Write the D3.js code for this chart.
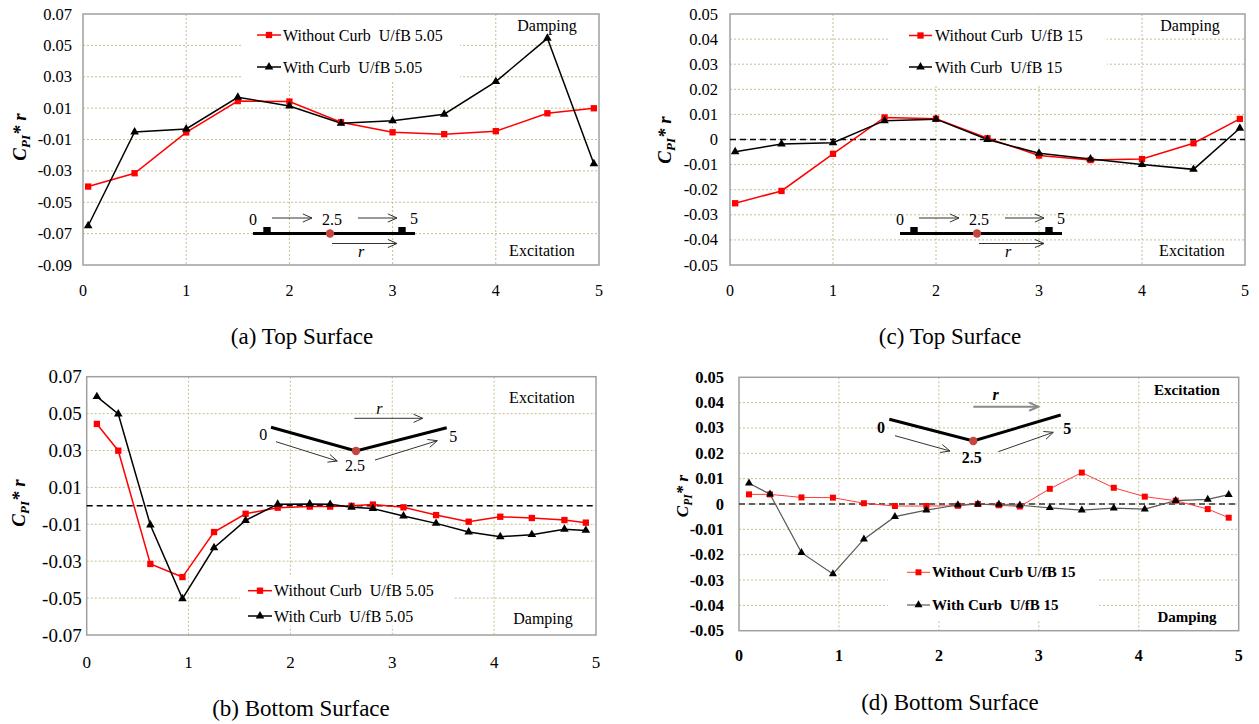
<!DOCTYPE html>
<html><head><meta charset="utf-8">
<script src="https://cdn.jsdelivr.net/npm/d3@7"></script>
<style>
body{margin:0;background:#fff;}
svg{display:block;}
text{font-family:"Liberation Serif","Times New Roman",serif;fill:#000;}
</style>
</head><body>
<svg id="chart" width="1259" height="724"></svg>
<script>
// ---------------- DATA ----------------
const xTicks = [0, 1, 2, 3, 4, 5];
const xGrid = [1, 2, 3, 4];
const yTicksA = [-0.09, -0.07, -0.05, -0.03, -0.01, 0.01, 0.03, 0.05, 0.07];
const yTicksB = [-0.07, -0.05, -0.03, -0.01, 0.01, 0.03, 0.05, 0.07];
const yTicksCD = [-0.05, -0.04, -0.03, -0.02, -0.01, 0, 0.01, 0.02, 0.03, 0.04, 0.05];

const xTop = [0.05, 0.5, 1, 1.5, 2, 2.5, 3, 3.5, 4, 4.5, 4.95];
const aWithout = [-0.040, -0.0315, -0.0055, 0.0145, 0.0142, 0.0010, -0.0054, -0.0066, -0.0047, 0.0067, 0.0099];
const aWith    = [-0.065, -0.0052, -0.0033, 0.0169, 0.0114, 0.0004, 0.0020, 0.0061, 0.0269, 0.0545, -0.0255];
const cWithout = [-0.0254, -0.0205, -0.0057, 0.0088, 0.0083, 0.0005, -0.0064, -0.0082, -0.0078, -0.0015, 0.0082];
const cWith    = [-0.0049, -0.0018, -0.0013, 0.0075, 0.0081, 0.0000, -0.0055, -0.0078, -0.0100, -0.0119, 0.0045];

const xBottom = [0.1, 0.31, 0.625, 0.94, 1.25, 1.56, 1.875, 2.19, 2.39, 2.6, 2.81, 3.11, 3.43, 3.75, 4.06, 4.37, 4.69, 4.9];
const bWithout = [0.0444, 0.0299, -0.0315, -0.0386, -0.0142, -0.0043, -0.0010, -0.0004, -0.0004, 0.0000, 0.0007, -0.0008, -0.0050, -0.0086, -0.0059, -0.0066, -0.0077, -0.0091];
const bWith    = [0.0592, 0.0498, -0.0104, -0.0503, -0.0227, -0.0079, 0.0009, 0.0010, 0.0008, -0.0008, -0.0015, -0.0055, -0.0095, -0.0142, -0.0167, -0.0156, -0.0127, -0.0133];
const dWithout = [0.0038, 0.0038, 0.0026, 0.0025, 0.0003, -0.0008, -0.0008, -0.0007, 0.0000, -0.0005, -0.0010, 0.0060, 0.0124, 0.0064, 0.0029, 0.0013, -0.0020, -0.0054];
const dWith    = [0.0082, 0.0039, -0.0192, -0.0276, -0.0139, -0.0050, -0.0024, -0.0004, -0.0001, -0.0002, -0.0005, -0.0015, -0.0024, -0.0016, -0.0020, 0.0013, 0.0018, 0.0037];

const legA = ["Without Curb  U/fB 5.05", "With Curb  U/fB 5.05"];
const legC = ["Without Curb  U/fB 15", "With Curb  U/fB 15"];
const legD = ["Without Curb U/fB 15", "With Curb  U/fB 15"];
const captions = ["(a) Top Surface", "(b) Bottom Surface", "(c) Top Surface", "(d) Bottom Surface"];

// ---------------- DRAW ----------------
const svg = d3.select("#chart");
const fmt = v => Math.abs(v) < 1e-9 ? "0" : (v < 0 ? "-" : "") + Math.abs(v).toFixed(2);
const GRID = "#c9bd8e";

function arrow(g, x1, y1, x2, y2, color, w) {
  g.append("line").attr("x1", x1).attr("y1", y1).attr("x2", x2).attr("y2", y2)
    .attr("stroke", color).attr("stroke-width", w);
  const a = Math.atan2(y2 - y1, x2 - x1), L = 10, s = 0.42;
  const p1 = [x2 - L * Math.cos(a - s), y2 - L * Math.sin(a - s)];
  const p2 = [x2 - L * Math.cos(a + s), y2 - L * Math.sin(a + s)];
  g.append("path").attr("d", `M${p1[0]},${p1[1]}L${x2},${y2}L${p2[0]},${p2[1]}`)
    .attr("fill", "none").attr("stroke", color).attr("stroke-width", w);
}

function panel(cfg) {
  const g = svg.append("g");
  const x = d3.scaleLinear().domain([0, 5]).range([cfg.L, cfg.R]);
  const y = d3.scaleLinear().domain(cfg.yDom).range([cfg.B, cfg.T]);
  const fw = cfg.bold ? "bold" : "normal";

  // grid
  g.selectAll(".hg").data(cfg.yTicks.filter(v => v > cfg.yDom[0] + 1e-9 && v < cfg.yDom[1] - 1e-9)).enter()
    .append("line").attr("x1", cfg.L).attr("x2", cfg.R).attr("y1", d => y(d)).attr("y2", d => y(d))
    .attr("stroke", GRID).attr("stroke-width", 1).attr("stroke-dasharray", "2,2");
  g.selectAll(".vg").data(xGrid).enter()
    .append("line").attr("y1", cfg.T).attr("y2", cfg.B).attr("x1", d => x(d)).attr("x2", d => x(d))
    .attr("stroke", GRID).attr("stroke-width", 1).attr("stroke-dasharray", "2,2");

  // legend white box
  const lb = cfg.legBox;
  g.append("rect").attr("x", lb[0]).attr("y", lb[1]).attr("width", lb[2] - lb[0]).attr("height", lb[3] - lb[1]).attr("fill", "#fff");

  // frame
  g.append("rect").attr("x", cfg.L).attr("y", cfg.T).attr("width", cfg.R - cfg.L).attr("height", cfg.B - cfg.T)
    .attr("fill", "none").attr("stroke", "#a0a0a0").attr("stroke-width", 1.5);

  // zero dashed
  if (cfg.zero) {
    g.append("line").attr("x1", cfg.L).attr("x2", cfg.R).attr("y1", y(0)).attr("y2", y(0))
      .attr("stroke", cfg.zeroColor).attr("stroke-width", 1.5).attr("stroke-dasharray", "6,4");
  }

  // tick labels
  g.selectAll(".yl").data(cfg.yTicks).enter().append("text")
    .attr("x", cfg.L - cfg.yGap).attr("y", d => y(d)).attr("text-anchor", "end")
    .attr("dominant-baseline", "central").attr("font-size", cfg.fs).attr("font-weight", fw).text(fmt);
  g.selectAll(".xl").data(xTicks).enter().append("text")
    .attr("x", d => x(d)).attr("y", cfg.B + cfg.xGap).attr("text-anchor", "middle")
    .attr("dominant-baseline", "central").attr("font-size", cfg.fsx).attr("font-weight", fw).text(d => d);

  // y title
  const yt = g.append("text").attr("transform", `translate(${cfg.titleX},${cfg.titleY}) rotate(-90)`)
    .attr("text-anchor", "middle").attr("font-size", cfg.titleFs).attr("font-weight", "bold").attr("font-style", "italic");
  yt.append("tspan").text("C");
  yt.append("tspan").attr("font-size", cfg.titleFs * 0.68).attr("baseline-shift", "-30%").text("PI");
  yt.append("tspan").text("* r");

  // series
  const line = d3.line().x(d => x(d[0])).y(d => y(d[1]));
  const s1 = cfg.xs.map((v, i) => [v, cfg.s1[i]]);
  const s2 = cfg.xs.map((v, i) => [v, cfg.s2[i]]);
  const sq = d3.symbol().type(d3.symbolSquare).size(cfg.sqSize);
  const tri = d3.symbol().type(d3.symbolTriangle).size(cfg.triSize);

  g.append("path").datum(s1).attr("d", line).attr("fill", "none").attr("stroke", cfg.redLine).attr("stroke-width", cfg.lw1);
  g.append("path").datum(s2).attr("d", line).attr("fill", "none").attr("stroke", cfg.blackLine).attr("stroke-width", cfg.lw2);
  g.selectAll(".m1").data(s1).enter().append("path").attr("d", sq)
    .attr("transform", d => `translate(${x(d[0])},${y(d[1])})`).attr("fill", "#ff0000");
  g.selectAll(".m2").data(s2).enter().append("path").attr("d", tri)
    .attr("transform", d => `translate(${x(d[0])},${y(d[1])})`).attr("fill", "#000");

  // legend
  const lg = cfg.leg;
  [[lg.y1, cfg.redLine, "#ff0000", sq, cfg.lw1, cfg.legText[0]], [lg.y2, cfg.blackLine, "#000", tri, cfg.lw2, cfg.legText[1]]]
    .forEach(([yy, lc, mc, sym, lw, txt]) => {
      g.append("line").attr("x1", lg.x1).attr("x2", lg.x2).attr("y1", yy).attr("y2", yy).attr("stroke", lc).attr("stroke-width", lw);
      g.append("path").attr("d", sym).attr("transform", `translate(${(lg.x1 + lg.x2) / 2},${yy})`).attr("fill", mc);
      g.append("text").attr("x", lg.tx).attr("y", yy).attr("dominant-baseline", "central")
        .attr("font-size", cfg.legFs).attr("font-weight", fw).style("white-space", "pre").text(txt);
    });

  // damping / excitation
  cfg.notes.forEach(n => {
    g.append("text").attr("x", n[1]).attr("y", n[2]).attr("text-anchor", "middle").attr("dominant-baseline", "central")
      .attr("font-size", cfg.legFs).attr("font-weight", fw).text(n[0]);
  });

  // inset diagram
  const dg = g.append("g").attr("transform", `translate(${cfg.L},${cfg.T})`);
  cfg.diagram(dg, fw);
  return g;
}

function flatDiagram(dg, fw) {
  const t = (s, xx, yy, it) => dg.append("text").attr("x", xx).attr("y", yy).attr("text-anchor", "middle")
    .attr("dominant-baseline", "central").attr("font-size", 16).attr("font-style", it ? "italic" : "normal").text(s);
  t("0", 170, 205);
  arrow(dg, 189, 204, 229, 204, "#333", 1);
  t("2.5", 249, 205);
  arrow(dg, 275, 204, 314, 204, "#333", 1);
  t("5", 331, 204);
  dg.append("line").attr("x1", 170).attr("x2", 332).attr("y1", 219.5).attr("y2", 219.5).attr("stroke", "#000").attr("stroke-width", 3);
  [184, 319].forEach(cx => dg.append("rect").attr("x", cx - 3.7).attr("y", 213).attr("width", 7.4).attr("height", 6.5).attr("fill", "#000"));
  dg.append("circle").attr("cx", 247).attr("cy", 219.5).attr("r", 4.2).attr("fill", "#c5453f");
  arrow(dg, 249, 229.5, 314, 229.5, "#333", 1);
  t("r", 278, 237, true);
}

function vDiagram(dg, fw, o) {
  const t = (s, xx, yy, it) => dg.append("text").attr("x", xx).attr("y", yy).attr("text-anchor", "middle")
    .attr("dominant-baseline", "central").attr("font-size", 16).attr("font-weight", fw).attr("font-style", it ? "italic" : "normal").text(s);
  t("0", o.zero[0], o.zero[1]);
  t("5", o.five[0], o.five[1]);
  t("2.5", o.mid[0], o.mid[1]);
  t("r", o.r[0], o.r[1], true);
  dg.append("path").attr("d", `M${o.v[0][0]},${o.v[0][1]}L${o.v[1][0]},${o.v[1][1]}L${o.v[2][0]},${o.v[2][1]}`)
    .attr("fill", "none").attr("stroke", "#000").attr("stroke-width", 3);
  dg.append("circle").attr("cx", o.v[1][0]).attr("cy", o.v[1][1]).attr("r", 4.2).attr("fill", "#c5453f");
  arrow(dg, o.a1[0], o.a1[1], o.a1[2], o.a1[3], "#333", 1);
  arrow(dg, o.a2[0], o.a2[1], o.a2[2], o.a2[3], "#333", 1);
  arrow(dg, o.ar[0], o.ar[1], o.ar[2], o.ar[3], o.rColor, o.rW);
}

// (a)
panel({
  L: 83, R: 599, T: 14, B: 265, yDom: [-0.09, 0.07], yTicks: yTicksA, zero: false,
  xs: xTop, s1: aWithout, s2: aWith, fs: 16.5, fsx: 16, yGap: 11, xGap: 25, bold: false,
  titleX: 26, titleY: 137, titleFs: 19, redLine: "#ff0000", blackLine: "#000", lw1: 1.5, lw2: 1.5, sqSize: 40, triSize: 32,
  legBox: [243, 15, 460, 82], leg: { x1: 257, x2: 281, tx: 283, y1: 35, y2: 67 }, legText: legA, legFs: 16,
  notes: [["Damping", 547, 25], ["Excitation", 542, 250]],
  diagram: flatDiagram
});
// (c)
panel({
  L: 730, R: 1245, T: 14, B: 265, yDom: [-0.05, 0.05], yTicks: yTicksCD, zero: true, zeroColor: "#000",
  xs: xTop, s1: cWithout, s2: cWith, fs: 16.5, fsx: 16, yGap: 12, xGap: 25, bold: false,
  titleX: 671, titleY: 140, titleFs: 19, redLine: "#ff0000", blackLine: "#000", lw1: 1.5, lw2: 1.5, sqSize: 40, triSize: 32,
  legBox: [890, 15, 1107, 84], leg: { x1: 909, x2: 932, tx: 935, y1: 35.5, y2: 67 }, legText: legC, legFs: 16,
  notes: [["Damping", 1190, 25], ["Excitation", 1192, 250]],
  diagram: flatDiagram
});
// (b)
panel({
  L: 86.7, R: 596, T: 376.7, B: 635, yDom: [-0.07, 0.07], yTicks: yTicksB, zero: true, zeroColor: "#000",
  xs: xBottom, s1: bWithout, s2: bWith, fs: 19, fsx: 17, yGap: 5, xGap: 27, bold: false,
  titleX: 25, titleY: 503, titleFs: 19, redLine: "#ff0000", blackLine: "#000", lw1: 1.5, lw2: 1.5, sqSize: 40, triSize: 32,
  legBox: [240, 577, 454, 626], leg: { x1: 248, x2: 272, tx: 274, y1: 590.7, y2: 616 }, legText: legA, legFs: 16,
  notes: [["Excitation", 542, 397], ["Damping", 543, 618]],
  diagram: (dg, fw) => vDiagram(dg, fw, {
    zero: [176.6, 58.3], five: [366.6, 60], mid: [268.3, 89.3], r: [292.6, 31.6],
    v: [[184.3, 50.6], [269.3, 74.3], [360, 51]],
    a1: [189.3, 65, 250.6, 84.3], a2: [288.3, 83.3, 350.6, 64], ar: [267.6, 41.6, 336, 41.6], rColor: "#333", rW: 1
  })
});
// (d)
panel({
  L: 739, R: 1238.7, T: 377.3, B: 630.7, yDom: [-0.05, 0.05], yTicks: yTicksCD, zero: true, zeroColor: "#333",
  xs: xBottom, s1: dWithout, s2: dWith, fs: 16.5, fsx: 16, yGap: 15, xGap: 25, bold: true,
  titleX: 688, titleY: 496, titleFs: 17, redLine: "#ff3b3b", blackLine: "#595959", lw1: 1, lw2: 1.2, sqSize: 36, triSize: 28,
  legBox: [888, 556, 1098, 620], leg: { x1: 907, x2: 930, tx: 932, y1: 572.3, y2: 605 }, legText: legD, legFs: 15,
  notes: [["Excitation", 1187, 390], ["Damping", 1187, 617]],
  diagram: (dg, fw) => vDiagram(dg, fw, {
    zero: [142, 50], five: [328.3, 51], mid: [232.7, 80], r: [256.7, 17.7],
    v: [[150.3, 42], [234.3, 63.7], [321.7, 37.7]],
    a1: [156, 58.4, 211, 73.7], a2: [259.3, 74.4, 314.3, 55], ar: [234.3, 29.4, 299.3, 29.4], rColor: "#8a8a8a", rW: 2
  })
});

// captions
const capPos = [[302, 344], [301, 716], [950, 344], [950, 710]];
captions.forEach((c, i) => {
  svg.append("text").attr("x", capPos[i][0]).attr("y", capPos[i][1]).attr("text-anchor", "middle")
    .attr("font-size", 23).text(c);
});
</script>
</body></html>
